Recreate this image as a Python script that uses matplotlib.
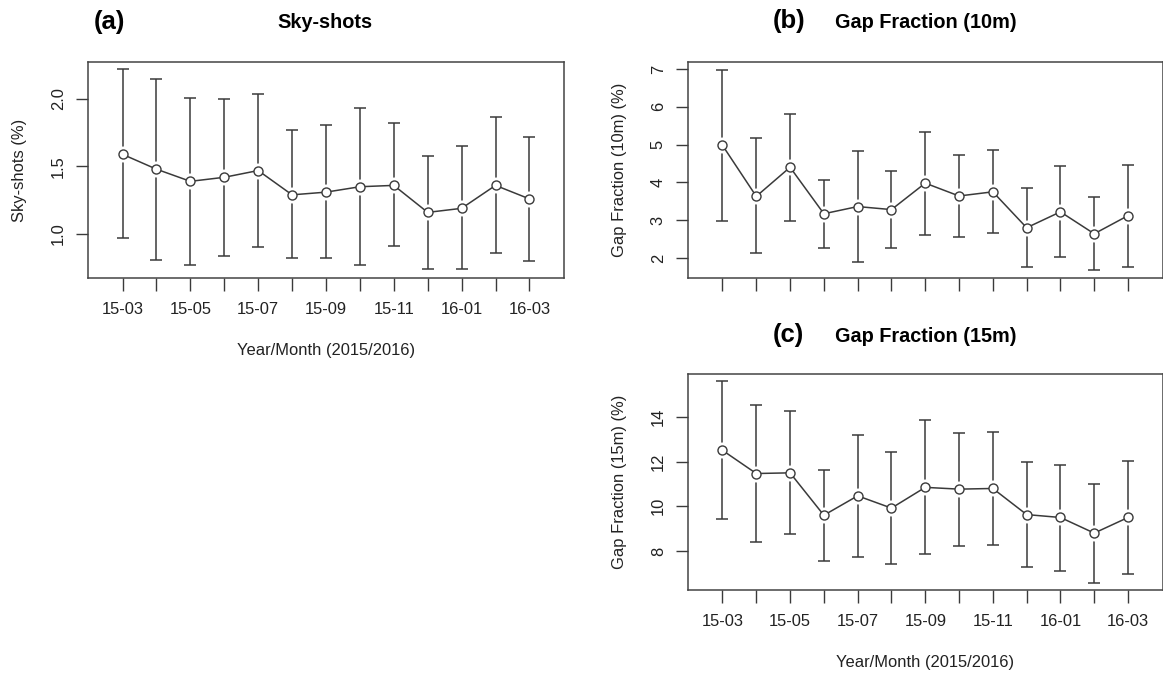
import numpy as np
import matplotlib.pyplot as plt

plt.rcParams['font.family'] = ['Liberation Sans', 'DejaVu Sans']

months = ['15-03', '15-04', '15-05', '15-06', '15-07', '15-08', '15-09',
          '15-10', '15-11', '15-12', '16-01', '16-02', '16-03']

sky_mean = [1.59, 1.48, 1.39, 1.42, 1.47, 1.29, 1.31, 1.35, 1.36, 1.16, 1.19, 1.36, 1.26]
sky_upper = [2.22, 2.15, 2.01, 2.00, 2.04, 1.77, 1.81, 1.93, 1.82, 1.58, 1.65, 1.87, 1.72]
sky_lower = [0.97, 0.81, 0.77, 0.84, 0.90, 0.82, 0.82, 0.77, 0.91, 0.74, 0.74, 0.86, 0.80]

gf10_mean = [4.98, 3.63, 4.40, 3.17, 3.36, 3.28, 3.98, 3.64, 3.75, 2.80, 3.22, 2.64, 3.12]
gf10_upper = [6.98, 5.17, 5.81, 4.07, 4.84, 4.30, 5.33, 4.73, 4.86, 3.85, 4.43, 3.60, 4.47]
gf10_lower = [2.97, 2.12, 2.97, 2.27, 1.89, 2.26, 2.61, 2.55, 2.65, 1.76, 2.03, 1.69, 1.76]

gf15_mean = [12.51, 11.47, 11.50, 9.60, 10.47, 9.92, 10.85, 10.77, 10.80, 9.63, 9.50, 8.80, 9.50]
gf15_upper = [15.60, 14.55, 14.27, 11.63, 13.20, 12.42, 13.85, 13.28, 13.33, 12.00, 11.87, 11.00, 12.03]
gf15_lower = [9.43, 8.40, 8.75, 7.55, 7.75, 7.40, 7.88, 8.22, 8.28, 7.28, 7.10, 6.58, 6.98]

col = '#3a3a3a'
txt = '#222222'
fs = 11.9


def panel(ax, mean, lower, upper, ylim, yticks, ylabels, ylabel, show_xlabels):
    x = np.arange(len(mean))
    mean = np.array(mean)
    err = [mean - np.array(lower), np.array(upper) - mean]
    ax.errorbar(x, mean, yerr=err, fmt='none', ecolor=col, elinewidth=1.1,
                capsize=4.3, capthick=1.1, zorder=1)
    # white gap around the points, like R's type="b"
    ax.plot(x, mean, 'o', ms=11.5, mfc='white', mec='none', zorder=2)
    ax.plot(x, mean, '-', color=col, lw=1.1, zorder=3)
    ax.plot(x, mean, 'o', ms=6.5, mfc='white', mec=col, mew=1.0, zorder=4)
    ax.set_xlim(-1.02, 13.02)
    ax.set_ylim(*ylim)
    ax.set_yticks(yticks)
    ax.set_yticklabels(ylabels, rotation=90, va='center')
    ax.set_xticks(x)
    if show_xlabels:
        ax.set_xticklabels([m if i % 2 == 0 else '' for i, m in enumerate(months)])
    else:
        ax.set_xticklabels([])
    ax.tick_params(axis='both', direction='out', length=9, width=1.0,
                   color=col, labelsize=fs, labelcolor=txt)
    ax.tick_params(axis='x', pad=8)
    ax.tick_params(axis='y', pad=7)
    for s in ax.spines.values():
        s.set_color('#444444')
        s.set_linewidth(1.1)
    ax.set_ylabel(ylabel, fontsize=fs, color=txt, labelpad=17)


fig = plt.figure(figsize=(11.63, 6.74), dpi=100)

ax_a = fig.add_axes([88 / 1163, 1 - 278 / 674, 476 / 1163, 216 / 674])
panel(ax_a, sky_mean, sky_lower, sky_upper, (0.674, 2.274),
      [1.0, 1.5, 2.0], ['1.0', '1.5', '2.0'], 'Sky-shots (%)', True)
ax_a.set_xlabel('Year/Month (2015/2016)', fontsize=fs, color=txt, labelpad=19)

ax_b = fig.add_axes([688 / 1163, 1 - 278 / 674, 474.5 / 1163, 216 / 674])
panel(ax_b, gf10_mean, gf10_lower, gf10_upper, (1.47, 7.185),
      [2, 3, 4, 5, 6, 7], ['2', '3', '4', '5', '6', '7'],
      'Gap Fraction (10m) (%)', False)

ax_c = fig.add_axes([688 / 1163, 1 - 590 / 674, 474.5 / 1163, 216 / 674])
panel(ax_c, gf15_mean, gf15_lower, gf15_upper, (6.25, 15.93),
      [8, 10, 12, 14], ['8', '10', '12', '14'], 'Gap Fraction (15m) (%)', True)
ax_c.set_xlabel('Year/Month (2015/2016)', fontsize=fs, color=txt, labelpad=19)

fig.text(109 / 1163, 1 - 22 / 674, '(a)', fontsize=18.5, fontweight='bold', ha='center', va='center')
fig.text(325 / 1163, 1 - 23 / 674, 'Sky-shots', fontsize=14.3, fontweight='bold', ha='center', va='center')
fig.text(789 / 1163, 1 - 21 / 674, '(b)', fontsize=18.5, fontweight='bold', ha='center', va='center')
fig.text(926 / 1163, 1 - 22 / 674, 'Gap Fraction (10m)', fontsize=14.3, fontweight='bold', ha='center', va='center')
fig.text(788 / 1163, 1 - 335 / 674, '(c)', fontsize=18.5, fontweight='bold', ha='center', va='center')
fig.text(926 / 1163, 1 - 336 / 674, 'Gap Fraction (15m)', fontsize=14.3, fontweight='bold', ha='center', va='center')

fig.savefig('out.png', dpi=100)
